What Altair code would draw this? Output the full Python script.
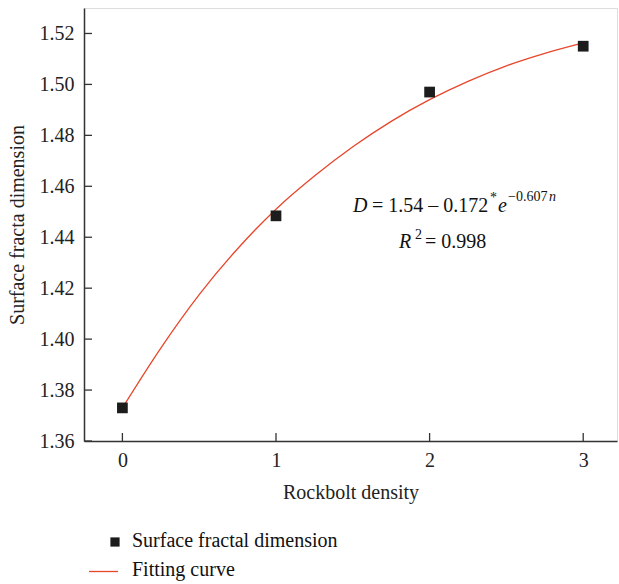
import altair as alt
import pandas as pd

# measured data
density = [0, 1, 2, 3]
fractal_dim = [1.373, 1.4484, 1.497, 1.515]

# fitting curve
curve_n = [0, 0.25, 0.5, 0.75, 1, 1.25, 1.5, 1.75, 2, 2.25, 2.5, 2.75, 3]
curve_d = [1.373, 1.3965, 1.4175, 1.4355, 1.451, 1.4640, 1.4755, 1.4855, 1.4940, 1.5012, 1.5073, 1.5122, 1.5163]

x_ticks = [0, 1, 2, 3]
y_ticks = [1.36, 1.38, 1.40, 1.42, 1.44, 1.46, 1.48, 1.50, 1.52]

FONT = "Liberation Serif"
FS = 20
W, H = 533, 433
AX = "#333333"
RED = "#e8462c"

pts = pd.DataFrame({"n": density, "D": fractal_dim})
crv = pd.DataFrame({"n": curve_n, "D": curve_d})
xt = pd.DataFrame({"v": x_ticks})
yt = pd.DataFrame({"v": y_ticks})

xs = alt.Scale(domain=[-0.25, 3.22], nice=False, zero=False)
ys = alt.Scale(domain=[1.36, 1.53], nice=False, zero=False)

xax = alt.Axis(values=x_ticks, format="d", ticks=False, grid=False, domainColor=AX, domainWidth=1.5,
               labelFont=FONT, labelFontSize=FS, labelColor="#222", labelPadding=9,
               title="Rockbolt density", titleFont=FONT, titleFontSize=FS, titleFontWeight="normal",
               titleColor="#222", titlePadding=12)
yax = alt.Axis(values=y_ticks, format=".2f", ticks=False, grid=False, domainColor=AX, domainWidth=1.5,
               labelFont=FONT, labelFontSize=FS, labelColor="#222", labelPadding=10,
               title="Surface fracta dimension", titleFont=FONT, titleFontSize=FS, titleFontWeight="normal",
               titleColor="#222", titlePadding=12)

curve = alt.Chart(crv).mark_line(color=RED, strokeWidth=1.3, interpolate="monotone").encode(
    x=alt.X("n:Q", scale=xs, axis=xax),
    y=alt.Y("D:Q", scale=ys, axis=yax),
)
points = alt.Chart(pts).mark_point(shape="square", filled=True, size=115, color="#1c1c1c", opacity=1).encode(
    x=alt.X("n:Q", scale=xs),
    y=alt.Y("D:Q", scale=ys),
)
xtick = alt.Chart(xt).mark_rule(color=AX, strokeWidth=1.3).encode(
    x=alt.X("v:Q", scale=xs), y=alt.value(H - 8), y2=alt.value(H)
)
ytick = alt.Chart(yt).mark_rule(color=AX, strokeWidth=1.3).encode(
    y=alt.Y("v:Q", scale=ys), x=alt.value(0), x2=alt.value(8)
)

def txt(s, x, y, size=FS, style="normal"):
    return alt.Chart(pd.DataFrame({"t": [s]})).mark_text(
        font=FONT, fontSize=size, fontStyle=style, align="left", baseline="alphabetic", color="#111"
    ).encode(text="t:N", x=alt.value(x), y=alt.value(y))

ox, oy = 84, 8
ann = [
    txt("D", 353 - ox, 212 - oy, style="italic"),
    txt("= 1.54 \u2013 0.172", 372 - ox, 212 - oy),
    txt("*", 490 - ox, 202 - oy, size=14),
    txt("e", 498 - ox, 212 - oy, style="italic"),
    txt("\u22120.607", 508 - ox, 201 - oy, size=14),
    txt("n", 549 - ox, 201 - oy, size=14, style="italic"),
    txt("R", 399 - ox, 248 - oy, style="italic"),
    txt("2", 415 - ox, 239 - oy, size=14),
    txt("= 0.998", 425 - ox, 248 - oy),
]

leg_sq = alt.Chart(pd.DataFrame({"a": [1]})).mark_point(shape="square", filled=True, size=85, color="#1c1c1c", opacity=1).encode(
    x=alt.value(115 - ox), y=alt.value(542 - oy))
leg_ln = alt.Chart(pd.DataFrame({"a": [1]})).mark_rule(color=RED, strokeWidth=1.3).encode(
    x=alt.value(89 - ox), x2=alt.value(118 - ox), y=alt.value(571.5 - oy))
leg_t1 = txt("Surface fractal dimension", 132 - ox, 547 - oy)
leg_t2 = txt("Fitting curve", 132 - ox, 576 - oy)

chart = alt.layer(curve, points, xtick, ytick, *ann, leg_sq, leg_ln, leg_t1, leg_t2).properties(
    width=W, height=H,
    autosize=alt.AutoSizeParams(type="none"),
    padding={"left": ox, "top": oy, "right": 619 - ox - W, "bottom": 584 - oy - H},
).configure_view(stroke=None).configure(background="white")

chart.save("out.html", embed_options={"renderer": "svg", "actions": False})
